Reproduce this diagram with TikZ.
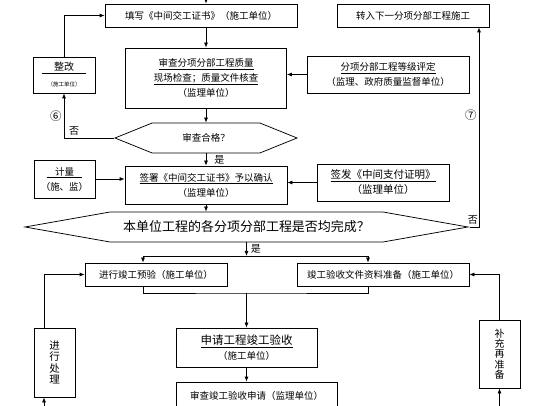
\documentclass[tikz,border=0pt]{standalone}
\usepackage{fontspec}
\setmainfont{Noto Sans CJK SC}
\usetikzlibrary{arrows.meta, positioning, shapes.symbols, calc}

\begin{document}
\begin{tikzpicture}[x=1pt, y=-1pt,
    base/.style={draw, line width=0.75pt, align=center, inner sep=1pt,
      font=\fontsize{9.5}{15}\selectfont},
    stepbox/.style={base},
    tallbox/.style={base, font=\fontsize{10.5}{11.5}\selectfont},
    decision/.style={base, signal, signal to=west and east},
    edgelabel/.style={font=\fontsize{10}{12}\selectfont, inner sep=1pt},
    numlabel/.style={font=\fontsize{11.5}{12}\selectfont, inner sep=1pt},
    arrow/.style={-{Latex[length=5pt, width=4pt]}, line width=0.75pt},
    link/.style={line width=0.75pt},
]
\useasboundingbox (0,0) rectangle (560,406);
\clip (0,0) rectangle (560,406);
\fill[white] (0,0) rectangle (560,406);
% Nodes
\node[stepbox, minimum width=192, minimum height=23] (tianxie) at (201,15.5)
    {填写《中间交工证书》（施工单位）};
\node[stepbox, minimum width=152, minimum height=23] (zhuanru) at (413,15.5)
    {转入下一分项分部工程施工};
\node[stepbox, minimum width=161, minimum height=60] (shencha) at (206,78)
    {\underline{审查分项分部工程质量}\\\underline{现场检查；质量文件核查}\\（监理单位）};
\node[stepbox, minimum width=62, minimum height=36] (zhenggai) at (64,75)
    {\fontsize{10}{12}\selectfont\underline{\makebox[44pt]{整改}}\\[1pt]
     \fontsize{5.5}{7}\selectfont （施工单位）};
\node[stepbox, minimum width=162, minimum height=37] (dengji) at (388,74.5)
    {\underline{分项分部工程等级评定}\\（监理、政府质量监督单位）};
\node[decision, minimum width=182, minimum height=30,
      signal pointer angle=44] (hege) at (206,138) {审查合格？};
\node[stepbox, minimum width=61, minimum height=38] (jiliang) at (64.5,179)
    {\underline{\makebox[36pt]{计量}}\\（施、监）};
\node[stepbox, minimum width=162, minimum height=38] (qianshu) at (206,185)
    {\underline{签署《中间交工证书》予以确认}\\（监理单位）};
\node[stepbox, minimum width=132, minimum height=37,
      font=\fontsize{10.5}{15}\selectfont] (qianfa) at (383,182.5)
    {\underline{签发《中间支付证明》}\\（监理单位）};
\node[decision, minimum width=443, minimum height=30,
      signal pointer angle=20, font=\fontsize{13}{15}\selectfont] (bighex) at (246.5,227)
    {本单位工程的各分项分部工程是否均完成？};
\node[stepbox, minimum width=142, minimum height=23] (yuyan) at (156,274.5)
    {进行竣工预验（施工单位）};
\node[stepbox, minimum width=172, minimum height=23] (wenjian) at (383,274.5)
    {竣工验收文件资料准备（施工单位）};
\node[stepbox, minimum width=141, minimum height=39] (shenqing) at (246.5,347.5)
    {\fontsize{11.5}{16}\selectfont\underline{申请工程竣工验收}\\（施工单位）};
\node[stepbox, minimum width=161, minimum height=28] (shenchasq) at (256.5,396)
    {审查竣工验收申请（监理单位）};
\node[tallbox, minimum width=41, minimum height=69] (chuli) at (54.5,362.5)
    {进\\行\\处\\理};
\node[tallbox, minimum width=41, minimum height=68,
      font=\fontsize{10}{10.2}\selectfont] (buchong) at (499.5,354)
    {补\\充\\再\\准\\备};
% Coordinates
\coordinate (topin) at (206,0);
\coordinate (nocorner) at (479,227);
\coordinate (split) at (246.5,256);
\coordinate (splitL) at (143,256);
\coordinate (splitR) at (368,256);
\coordinate (join) at (246.5,293);
\coordinate (chulibot) at (44,410);
\coordinate (buchongbot) at (499.5,410);
% Arrows
\draw[arrow] (topin) -- (topin |- tianxie.north);
\draw[arrow] (tianxie.south -| shencha.north) -- (shencha.north);
\draw[arrow] (shencha.south) -- (hege.north);
\draw[arrow] (hege.south) -- node[edgelabel, right=7pt] {是} (qianshu.north);
\draw[arrow] (hege.west) -| node[pos=0.4, edgelabel, above=1pt] {否}
    node[pos=0.75, numlabel, left=1pt] {⑥} (zhenggai.south);
\draw[arrow] (zhenggai.north) |- (tianxie.west);
\draw[arrow] (dengji.west) -- (dengji.west -| shencha.east);
\draw[arrow] (jiliang.east) -- (jiliang.east -| qianshu.west);
\draw[arrow] (qianfa.west) -- (qianfa.west -| qianshu.east);
\draw[arrow] (qianshu.south) -- (qianshu.south |- bighex.north);
\draw[arrow] (bighex.east) -- node[pos=0.3, edgelabel, above=1pt] {否} (nocorner)
    -- node[pos=0.56, numlabel, left=1pt] {⑦} (nocorner |- zhuanru.south);
\draw[arrow] (bighex.south) -- node[edgelabel, right=3pt] {是} (split);
\draw[link] (splitL) -- (splitR);
\draw[arrow] (splitL) -- (splitL |- yuyan.north);
\draw[arrow] (splitR) -- (splitR |- wenjian.north);
\draw[link] (splitL |- yuyan.south) |- (join) -| (splitR |- wenjian.south);
\draw[arrow] (join) -- (shenqing.north);
\draw[arrow] (shenqing.south) -- (shenqing.south |- shenchasq.north);
\draw[arrow] (chulibot) -- (chulibot |- chuli.south);
\draw[arrow] (chulibot |- chuli.north) |- (yuyan.west);
\draw[arrow] (buchong.north) |- (wenjian.east);
\draw[arrow] (buchongbot) -- (buchong.south);
\end{tikzpicture}
\end{document}
